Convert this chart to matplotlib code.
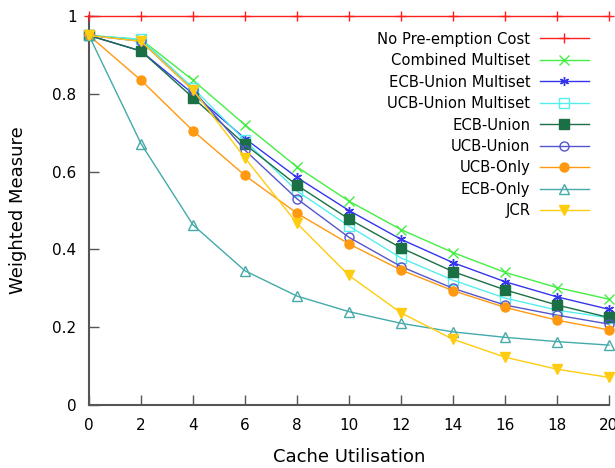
import matplotlib
matplotlib.use('Agg')
import matplotlib.pyplot as plt
import numpy as np

# Cache utilisation values (x axis)
x = [0, 2, 4, 6, 8, 10, 12, 14, 16, 18, 20]

no_preempt = [1, 1, 1, 1, 1, 1, 1, 1, 1, 1, 1]
combined_ms = [0.95, 0.94, 0.835, 0.72, 0.612, 0.524, 0.451, 0.392, 0.341, 0.302, 0.272]
ecb_union_ms = [0.95, 0.91, 0.80, 0.685, 0.585, 0.50, 0.426, 0.366, 0.317, 0.278, 0.246]
ucb_union_ms = [0.95, 0.94, 0.815, 0.68, 0.55, 0.46, 0.378, 0.321, 0.275, 0.244, 0.224]
ecb_union = [0.95, 0.91, 0.79, 0.67, 0.565, 0.478, 0.404, 0.343, 0.296, 0.257, 0.225]
ucb_union = [0.95, 0.935, 0.81, 0.655, 0.53, 0.431, 0.356, 0.30, 0.257, 0.231, 0.208]
ucb_only = [0.95, 0.835, 0.705, 0.59, 0.493, 0.414, 0.347, 0.294, 0.251, 0.218, 0.193]
ecb_only = [0.95, 0.672, 0.463, 0.345, 0.28, 0.24, 0.21, 0.188, 0.174, 0.163, 0.154]
jcr = [0.95, 0.935, 0.81, 0.635, 0.467, 0.333, 0.237, 0.169, 0.123, 0.092, 0.071]

series = [
    ('No Pre-emption Cost', no_preempt, '#ff2020', '+', True),
    ('Combined Multiset', combined_ms, '#44ee44', 'x', True),
    ('ECB-Union Multiset', ecb_union_ms, '#3535ee', (6, 2, 0), True),
    ('UCB-Union Multiset', ucb_union_ms, '#55eeee', 's', False),
    ('ECB-Union', ecb_union, '#1a7044', 's', True),
    ('UCB-Union', ucb_union, '#5555cc', 'o', False),
    ('UCB-Only', ucb_only, '#ff9910', 'o', True),
    ('ECB-Only', ecb_only, '#44aaaa', '^', False),
    ('JCR', jcr, '#ffcc10', 'v', True),
]

fig = plt.figure(figsize=(6.15, 4.68), dpi=100)
ax = fig.add_axes([0.1447, 0.1346, 0.8455, 0.8312])

for label, y, c, m, filled in series:
    ax.plot(x, y, color=c, lw=1.0, marker=m, markersize=6.5,
            markerfacecolor=c if filled else 'none', markeredgecolor=c,
            markeredgewidth=1.0, label=label, clip_on=False, zorder=3)

ax.set_xlim(0, 20)
ax.set_ylim(0, 1)
ax.set_xticks(range(0, 21, 2))
ax.set_yticks([0, 0.2, 0.4, 0.6, 0.8, 1])
ax.set_yticklabels(['0', '0.2', '0.4', '0.6', '0.8', '1'])
ax.tick_params(direction='in', length=7, width=1, labelsize=11, pad=9, colors='#555555', labelcolor='black')
ax.spines['top'].set_visible(False)
ax.spines['right'].set_visible(False)
for s in ['left', 'bottom']:
    ax.spines[s].set_color('#555555')
    ax.spines[s].set_linewidth(1.5)

ax.set_xlabel('Cache Utilisation', fontsize=13, labelpad=11)
ax.set_ylabel('Weighted Measure', fontsize=13, labelpad=18)

leg = ax.legend(loc='upper right', bbox_to_anchor=(0.972, 0.975), frameon=False, markerfirst=False,
                fontsize=10.6, handlelength=3.3, handletextpad=0.65, labelspacing=0.44,
                borderaxespad=0)
for t in leg.get_texts():
    t.set_ha('right')

fig.savefig('out.png', dpi=100)
